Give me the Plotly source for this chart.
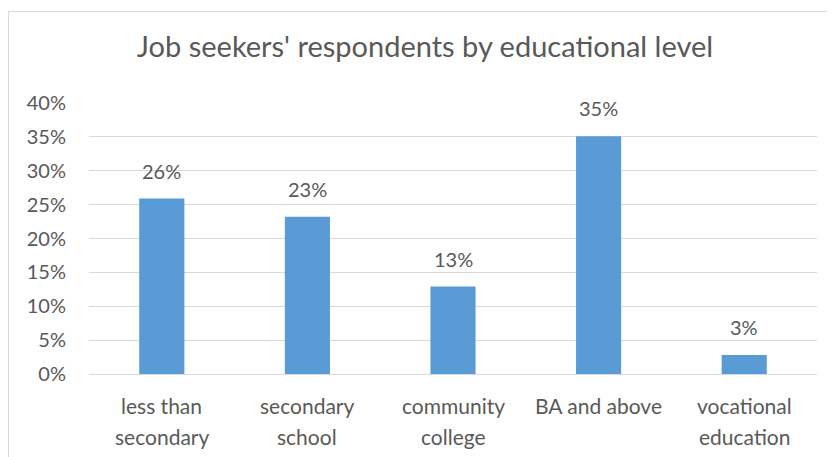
import plotly.graph_objects as go

categories = ["less than<br>secondary", "secondary<br>school", "community<br>college", "BA and above", "vocational<br>education"]
values = [0.259, 0.232, 0.129, 0.351, 0.028]
labels = ["26%", "23%", "13%", "35%", "3%"]
ytick_vals = [0, 0.05, 0.10, 0.15, 0.20, 0.25, 0.30, 0.35, 0.40]
ytick_text = ["0%", "5%", "10%", "15%", "20%", "25%", "30%", "35%", "40%"]

# page body has an 8px margin; build the figure in page pixels minus that offset
OFF = 8
W, H = 835 - OFF, 457 - OFF
ml, mr, mt, mb = 89 - OFF, 18, 103 - OFF, 83
pw, ph = W - ml - mr, H - mt - mb

FONT = "Lato"
GRAY = "#595959"

fig = go.Figure()
fig.add_trace(go.Bar(x=categories, y=values, marker=dict(color="#5b9bd5", line=dict(width=0)),
                     width=0.31, hoverinfo="skip"))

for c, v, t in zip(categories, values, labels):
    fig.add_annotation(x=c, y=v, text=t, showarrow=False, yanchor="bottom", yshift=14,
                       font=dict(family=FONT, size=20, color=GRAY))

# category labels, two lines with Excel-like line spacing
for c in categories:
    for i, line in enumerate(c.split("<br>")):
        fig.add_annotation(x=c, xref="x", y=0, yref="paper", text=line, showarrow=False,
                           yanchor="middle", yshift=-31 - 31 * i,
                           font=dict(family=FONT, size=21, color=GRAY))

def px2paper_x(px):
    return (px - OFF - ml) / pw

def px2paper_y(py):
    return (H - mb - (py - OFF)) / ph

# chart area border
fig.add_shape(type="rect", xref="paper", yref="paper",
              x0=px2paper_x(8.5), x1=px2paper_x(850), y0=px2paper_y(470), y1=px2paper_y(11.5),
              line=dict(color="#d9d9d9", width=1), fillcolor="rgba(0,0,0,0)", layer="below")

fig.update_layout(
    width=W, height=H,
    margin=dict(l=ml, r=mr, t=mt, b=mb),
    paper_bgcolor="white", plot_bgcolor="white",
    showlegend=False,
    title=dict(text="Job seekers' respondents by educational level", x=(425 - OFF) / W, xref="container",
               y=1 - (47 - OFF) / H, yref="container", yanchor="middle", xanchor="center",
               font=dict(family=FONT, size=29, color=GRAY)),
    xaxis=dict(showticklabels=False, showgrid=False, showline=False, ticks="", zeroline=False),
    yaxis=dict(range=[0, 0.4], tickvals=ytick_vals, ticktext=ytick_text,
               tickfont=dict(family=FONT, size=20, color=GRAY),
               showgrid=True, gridcolor="#d9d9d9", gridwidth=1, zeroline=True,
               zerolinecolor="#d9d9d9", zerolinewidth=1, showline=False, ticks="",
               ticklabelstandoff=22),
    font=dict(family=FONT, color=GRAY),
)

fig.write_html("out.html")
